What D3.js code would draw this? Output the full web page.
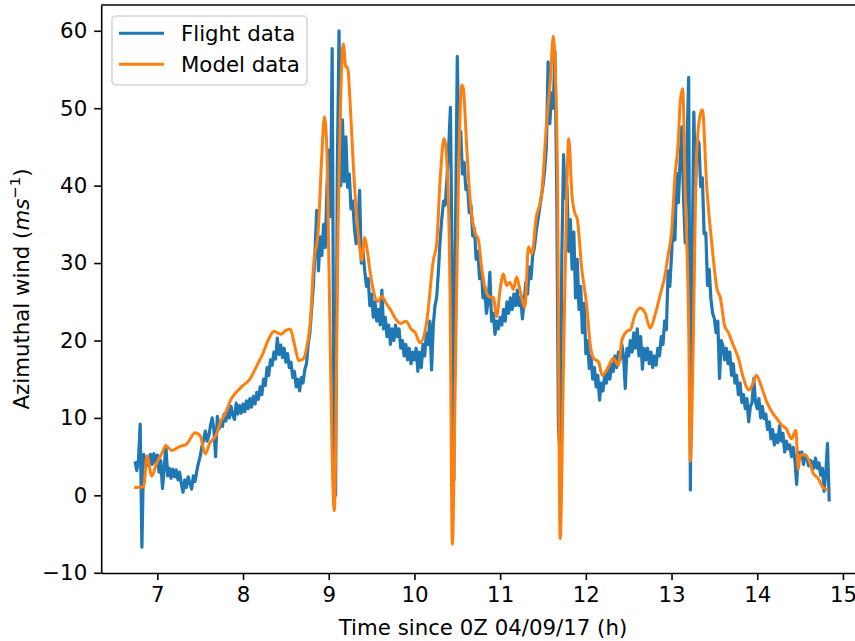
<!DOCTYPE html>
<html>
<head>
<meta charset="utf-8">
<script src="https://cdn.jsdelivr.net/npm/d3@7"></script>
<style>
  body { margin: 0; background: #ffffff; }
  svg { display: block; font-family: "DejaVu Sans", sans-serif; }
</style>
</head>
<body>
<svg id="chart" width="855" height="641"></svg>
<script>
// Flight record: regularly sampled every 0.02 h starting at 6.74 h
const flightStart = 6.74;
const flightStep = 0.02;
const flightWind = [
  // 6.74 - 7.00
  4.4, 3.2, 4.6, 9.2, -6.7, 5.3, 3.5, 5.0, 3.8, 5.3, 4.0, 5.4, 4.2, 5.2,
  // 7.02 - 7.50
  3.0, 4.5, 0.9, 3.5, 6.4, 2.5, 3.5, 2.2, 3.4, 2.4, 3.3, 2.0, 3.0, 1.5, 0.4,
  2.0, 1.0, 2.4, 1.6, 0.8, 2.5, 1.8, 3.1, 4.2, 5.0,
  // 7.52 - 8.00
  6.3, 7.2, 8.3, 7.0, 7.6, 9.0, 10.0, 8.5, 5.0, 10.2, 8.6, 9.5, 8.9, 10.5, 9.6,
  11.0, 10.0, 11.5, 10.4, 9.8, 11.9, 10.5, 11.6, 10.6, 11.8,
  // 8.02 - 8.50
  10.8, 12.2, 11.2, 12.5, 11.4, 12.8, 11.8, 13.3, 12.4, 14.0, 13.0, 15.0, 14.2, 16.5, 15.5,
  17.5, 16.8, 18.5, 17.6, 20.3, 18.2, 19.4, 17.8, 19.0, 17.2,
  // 8.52 - 9.00
  18.3, 16.5, 17.2, 15.2, 16.0, 14.0, 15.0, 13.5, 15.2, 14.5, 16.2, 17.0, 19.5, 21.0, 24.0,
  27.0, 31.5, 36.8, 29.0, 33.4, 31.0, 35.0, 32.0, 40.0, 44.6,
  // 9.02 - 9.50
  36.0, 57.7, 10.0, 0.0, 42.0, 60.0, 40.0, 48.5, 40.5, 46.3, 39.8, 41.5, 37.0, 38.0, 34.5,
  32.5, 34.5, 39.4, 30.0, 31.5, 29.0, 27.0, 28.0, 24.5, 26.0,
  // 9.52 - 10.00
  23.0, 25.0, 22.5, 24.0, 22.0, 26.5, 21.5, 23.0, 20.5, 22.0, 19.5, 21.5, 20.0, 22.0, 20.5,
  21.5, 19.0, 20.0, 18.0, 19.5, 17.5, 19.0, 17.0, 18.5, 17.5,
  // 10.02 - 10.50
  19.0, 16.0, 18.5, 16.5, 19.5, 18.0, 21.0, 19.5, 22.5, 16.2, 22.0, 24.5, 25.6, 29.0, 33.0,
  35.8, 38.0, 37.5, 41.0, 45.0, 50.1, 30.0, 2.0, 35.0, 56.7,
  // 10.52 - 11.00
  44.0, 47.0, 41.5, 43.0, 39.5, 40.0, 36.5, 37.5, 33.5, 34.5, 30.5, 31.5, 28.0, 29.5, 25.5,
  27.0, 23.5, 25.0, 28.8, 22.5, 23.5, 20.8, 22.5, 21.5, 23.0,
  // 11.02 - 11.50
  22.0, 24.0, 22.5, 25.0, 23.5, 25.5, 24.0, 26.0, 24.5, 26.5, 24.5, 25.5, 22.8, 25.0, 27.5,
  26.0, 29.5, 28.0, 31.0, 32.0, 34.0, 35.5, 37.0, 38.5, 40.0,
  // 11.52 - 12.00
  42.0, 45.0, 56.0, 48.0, 52.0, 50.0, 57.4, 40.0, 9.0, 5.0, 31.0, 44.0, 38.4, 40.0, 31.5,
  35.6, 29.2, 34.0, 25.5, 30.5, 24.0, 27.0, 21.0, 24.8, 18.3,
  // 12.02 - 12.50
  20.0, 16.4, 18.0, 15.0, 16.5, 14.0, 15.5, 12.3, 14.5, 13.5, 15.5, 14.5, 16.5, 15.0, 17.0,
  16.0, 18.0, 16.5, 18.5, 17.5, 19.5, 18.0, 13.8, 19.0, 18.0,
  // 12.52 - 13.00
  20.0, 18.5, 21.0, 19.0, 21.5, 18.0, 20.5, 16.3, 19.0, 17.5, 19.0, 17.0, 18.5, 16.5, 18.0,
  16.8, 19.0, 18.0, 20.5, 19.5, 22.5, 21.4, 29.0, 27.0, 31.0,
  // 13.02 - 13.50
  35.6, 33.0, 41.6, 37.8, 43.3, 47.6, 38.4, 32.6, 45.0, 54.0, 0.7, 30.0, 49.5, 40.0, 46.0,
  45.5, 39.9, 41.0, 33.8, 33.9, 27.1, 29.2, 25.3, 23.5, 22.8,
  // 13.52 - 14.00
  21.0, 22.5, 15.1, 20.0, 19.3, 17.5, 19.0, 17.0, 18.5, 15.5, 17.0, 14.5, 15.5, 13.0, 14.5,
  12.0, 13.0, 11.2, 12.5, 9.5, 11.5, 12.0, 15.1, 12.0, 11.2,
  // 14.02 - 14.84
  12.5, 10.0, 11.5, 9.9, 10.5, 8.5, 9.5, 7.3, 8.5, 6.5, 7.8, 6.8, 9.0, 7.0, 8.0,
  5.6, 7.0, 6.0, 6.5, 5.0, 6.2, 4.5, 1.4, 5.6, 4.8, 5.6, 4.0, 5.2, 4.8, 3.8,
  4.5, 4.3, 3.5, 4.8, 3.5, 4.2, 2.6, 3.5, 0.5, 3.0, 6.7, -0.8
];

// Model output along the flight track
const modelTime = [
  6.73, 6.84, 6.88, 6.935, 6.99, 7.05, 7.10, 7.17, 7.26, 7.34, 7.44, 7.50, 7.56, 7.61, 7.69,
  7.74, 7.77, 7.81, 7.85, 7.92, 8.00, 8.08, 8.15, 8.22, 8.30, 8.36, 8.44, 8.50, 8.55, 8.60,
  8.65, 8.70, 8.75, 8.79, 8.82, 8.88, 8.92, 8.95, 8.98, 9.00, 9.065, 9.11, 9.17, 9.20, 9.22,
  9.25, 9.29, 9.33, 9.37, 9.385, 9.42, 9.45, 9.48, 9.52, 9.57, 9.62, 9.67, 9.72, 9.78, 9.84,
  9.90, 9.96, 10.01, 10.065, 10.143, 10.22, 10.26, 10.30, 10.345, 10.376, 10.415, 10.443, 10.474, 10.513, 10.552,
  10.57, 10.61, 10.65, 10.707, 10.746, 10.785, 10.843, 10.88, 10.92, 10.96, 11.00, 11.037, 11.076, 11.115, 11.154,
  11.193, 11.23, 11.29, 11.33, 11.37, 11.42, 11.485, 11.54, 11.59, 11.62, 11.64, 11.67, 11.70, 11.74, 11.78,
  11.80, 11.84, 11.87, 11.90, 11.95, 12.01, 12.05, 12.09, 12.15, 12.19, 12.25, 12.32, 12.38, 12.42, 12.48,
  12.52, 12.57, 12.63, 12.69, 12.75, 12.81, 12.87, 12.92, 12.96, 13.00, 13.04, 13.08, 13.10, 13.13, 13.16,
  13.20, 13.22, 13.25, 13.29, 13.33, 13.36, 13.41, 13.47, 13.53, 13.57, 13.62, 13.66, 13.72, 13.78, 13.84,
  13.90, 13.94, 13.99, 14.05, 14.11, 14.17, 14.23, 14.29, 14.34, 14.40, 14.45, 14.48, 14.50, 14.56, 14.62,
  14.65, 14.71, 14.77, 14.83
];
const modelWind = [
  1.0, 1.1, 5.1, 2.5, 4.1, 5.35, 6.4, 5.8, 6.3, 6.6, 8.1, 7.7, 5.35, 6.7, 7.9,
  9.6, 10.1, 11.0, 12.2, 13.3, 14.2, 15.0, 16.5, 18.0, 20.2, 21.2, 20.8, 21.3, 21.5, 19.5,
  17.4, 17.6, 19.5, 23.0, 29.3, 34.6, 44.1, 48.9, 44.1, 31.2, -2.0, 35.0, 58.3, 55.3, 55.3,
  50.6, 42.0, 35.5, 31.2, 30.3, 33.3, 31.6, 29.1, 26.5, 25.0, 25.7, 24.8, 24.0, 22.8, 22.2,
  22.5, 21.5, 21.0, 19.7, 22.4, 30.3, 32.6, 40.8, 46.1, 43.6, 26.6, -6.3, 12.8, 40.4, 53.0,
  52.6, 45.0, 38.1, 33.9, 33.0, 29.3, 26.1, 25.6, 25.6, 23.1, 26.6, 28.6, 27.1, 27.5, 26.6,
  28.2, 26.6, 24.3, 32.1, 31.2, 35.8, 39.0, 47.8, 54.2, 59.3, 56.0, 40.4, -5.6, 17.4, 40.4,
  46.1, 38.5, 36.5, 35.7, 29.5, 24.5, 19.6, 17.7, 17.2, 15.5, 16.3, 17.7, 16.8, 20.0, 21.2,
  21.4, 23.2, 24.2, 23.6, 21.6, 23.4, 26.0, 28.2, 31.0, 34.0, 41.2, 46.0, 50.6, 52.5, 39.0,
  21.9, 4.4, 17.6, 43.3, 48.9, 49.8, 40.0, 32.5, 26.7, 25.5, 21.9, 21.1, 19.4, 17.7, 15.1,
  13.6, 14.2, 15.5, 14.0, 12.1, 10.8, 9.9, 9.0, 8.6, 7.3, 8.4, 3.3, 5.2, 5.2, 4.0,
  2.9, 2.2, 1.0, 0.7
];

const xTicks = [7, 8, 9, 10, 11, 12, 13, 14, 15];
const yTicks = [-10, 0, 10, 20, 30, 40, 50, 60];
const seriesNames = ["Flight data", "Model data"];
const seriesColors = ["#1f77b4", "#ff7f0e"];

const fontSize = 21.3;

const svg = d3.select("#chart");
svg.append("rect").attr("width", 855).attr("height", 641).attr("fill", "#ffffff");

const plot = { left: 101.2, top: 5, bottom: 573 };
const xDomain = [6.345, 15.255];
const yDomain = [-10.03, 63.33];
const pxPerHour = 85.7;
const x = d3.scaleLinear().domain(xDomain)
  .range([plot.left, plot.left + (xDomain[1] - xDomain[0]) * pxPerHour]);
const y = d3.scaleLinear().domain(yDomain).range([plot.bottom, plot.top]);

const flight = flightWind.map((v, i) => ({ t: flightStart + i * flightStep, v }));
const model = modelTime.map((t, i) => ({ t, v: modelWind[i] }));

svg.append("clipPath").attr("id", "plot-clip")
  .append("rect")
  .attr("x", x.range()[0]).attr("y", plot.top)
  .attr("width", x.range()[1] - x.range()[0]).attr("height", plot.bottom - plot.top);

const lines = svg.append("g").attr("clip-path", "url(#plot-clip)");
const line = d3.line().x(d => x(d.t)).y(d => y(d.v));

lines.append("path").datum(flight)
  .attr("d", line)
  .attr("fill", "none")
  .attr("stroke", seriesColors[0])
  .attr("stroke-width", 3.2)
  .attr("stroke-linejoin", "round");

lines.append("path").datum(model)
  .attr("d", line.curve(d3.curveMonotoneX))
  .attr("fill", "none")
  .attr("stroke", seriesColors[1])
  .attr("stroke-width", 3)
  .attr("stroke-linejoin", "round");

// Axes
const xAxis = d3.axisBottom(x).tickValues(xTicks).tickSize(7).tickSizeOuter(0).tickPadding(7)
  .tickFormat(d3.format("d"));
const yAxis = d3.axisLeft(y).tickValues(yTicks).tickSize(7).tickSizeOuter(0).tickPadding(7)
  .tickFormat(d => d < 0 ? "\u2212" + Math.abs(d) : String(d));

const gx = svg.append("g").attr("transform", `translate(0,${plot.bottom})`).call(xAxis);
const gy = svg.append("g").attr("transform", `translate(${plot.left},0)`).call(yAxis);

[gx, gy].forEach(g => {
  g.attr("font-family", "DejaVu Sans, sans-serif").attr("font-size", fontSize);
  g.selectAll("path.domain").attr("stroke", "#000").attr("stroke-width", 1.6);
  g.selectAll(".tick line").attr("stroke", "#000").attr("stroke-width", 1.6);
  g.selectAll(".tick text").attr("fill", "#000");
});

// Top spine
svg.append("line")
  .attr("x1", x.range()[0]).attr("x2", x.range()[1])
  .attr("y1", plot.top).attr("y2", plot.top)
  .attr("stroke", "#000").attr("stroke-width", 1.6);

// Axis titles
svg.append("text")
  .attr("x", (x.range()[0] + x.range()[1]) / 2)
  .attr("y", 635)
  .attr("text-anchor", "middle")
  .attr("font-size", fontSize)
  .attr("fill", "#000")
  .text("Time since 0Z 04/09/17 (h)");

const yTitle = svg.append("text")
  .attr("transform", `translate(28.5,${(plot.top + plot.bottom) / 2}) rotate(-90)`)
  .attr("text-anchor", "middle")
  .attr("font-size", fontSize)
  .attr("fill", "#000");
yTitle.append("tspan").text("Azimuthal wind (");
yTitle.append("tspan").attr("font-style", "italic").text("ms");
yTitle.append("tspan").attr("font-size", fontSize * 0.7).attr("dy", -8.5).text("\u22121");
yTitle.append("tspan").attr("dy", 8.5).text(")");

// Legend
const legend = svg.append("g");
legend.append("rect")
  .attr("x", 112).attr("y", 16).attr("width", 195).attr("height", 69).attr("rx", 4)
  .attr("fill", "#ffffff").attr("fill-opacity", 0.8)
  .attr("stroke", "#cccccc").attr("stroke-opacity", 0.8).attr("stroke-width", 1.6);
seriesNames.forEach((name, i) => {
  const cy = 33.3 + i * 31;
  legend.append("line")
    .attr("x1", 119).attr("x2", 164).attr("y1", cy).attr("y2", cy)
    .attr("stroke", seriesColors[i]).attr("stroke-width", 3);
  legend.append("text")
    .attr("x", 181).attr("y", cy + 7.5)
    .attr("font-size", fontSize).attr("fill", "#000")
    .text(name);
});
</script>
</body>
</html>
